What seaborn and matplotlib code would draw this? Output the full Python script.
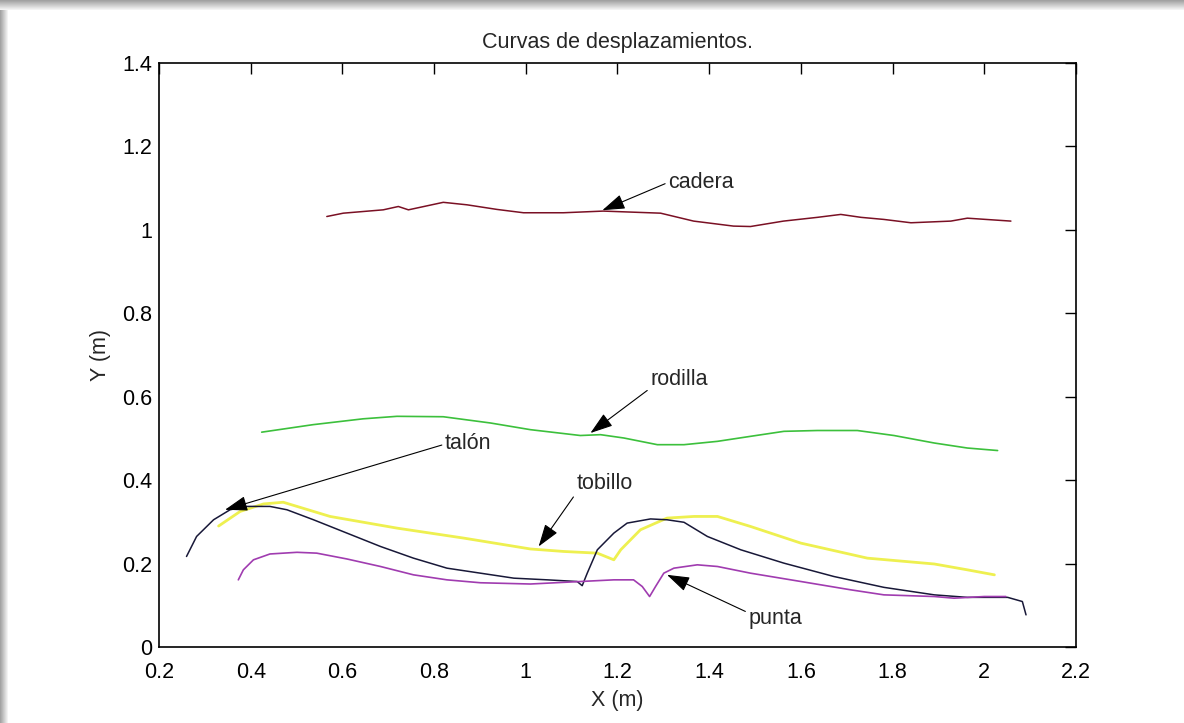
import numpy as np
import pandas as pd
import matplotlib
matplotlib.use("Agg")
import matplotlib.pyplot as plt
import seaborn as sns

# ── data (X, Y in metres) ──
cadera_x = [0.566, 0.602, 0.689, 0.722, 0.744, 0.820, 0.872, 0.937, 0.995, 1.082, 1.169,
            1.294, 1.366, 1.453, 1.490, 1.562, 1.636, 1.687, 1.731, 1.781, 1.840, 1.927, 1.963, 2.058]
cadera_y = [1.032, 1.040, 1.048, 1.056, 1.048, 1.066, 1.060, 1.049, 1.041, 1.041, 1.045,
            1.040, 1.021, 1.009, 1.008, 1.021, 1.030, 1.037, 1.030, 1.025, 1.017, 1.021, 1.028, 1.021]

rodilla_x = [0.424, 0.536, 0.645, 0.719, 0.820, 0.923, 1.010, 1.119, 1.163, 1.214, 1.287,
             1.345, 1.418, 1.490, 1.563, 1.636, 1.723, 1.803, 1.891, 1.963, 2.029]
rodilla_y = [0.515, 0.533, 0.547, 0.553, 0.552, 0.537, 0.521, 0.507, 0.509, 0.501, 0.485,
             0.485, 0.493, 0.505, 0.517, 0.519, 0.519, 0.507, 0.489, 0.477, 0.471]

tobillo_x = [0.330, 0.377, 0.428, 0.471, 0.573, 0.719, 0.865, 1.010, 1.083, 1.156, 1.192,
             1.207, 1.250, 1.308, 1.367, 1.418, 1.490, 1.600, 1.745, 1.891, 1.963, 2.022]
tobillo_y = [0.290, 0.325, 0.343, 0.347, 0.313, 0.285, 0.261, 0.235, 0.229, 0.225, 0.209,
             0.233, 0.281, 0.309, 0.313, 0.313, 0.289, 0.249, 0.213, 0.199, 0.185, 0.173]

talon_x = [0.260, 0.282, 0.319, 0.355, 0.392, 0.442, 0.479, 0.537, 0.610, 0.683, 0.755,
           0.828, 0.901, 0.974, 1.047, 1.112, 1.123, 1.134, 1.156, 1.192, 1.221, 1.272,
           1.308, 1.345, 1.396, 1.469, 1.563, 1.672, 1.781, 1.891, 1.963, 2.051, 2.083, 2.091]
talon_y = [0.217, 0.265, 0.305, 0.329, 0.337, 0.337, 0.329, 0.305, 0.273, 0.241, 0.213,
           0.189, 0.177, 0.165, 0.161, 0.157, 0.147, 0.177, 0.233, 0.273, 0.297, 0.307,
           0.305, 0.299, 0.265, 0.233, 0.201, 0.169, 0.143, 0.125, 0.119, 0.119, 0.109, 0.077]

punta_x = [0.373, 0.384, 0.406, 0.442, 0.501, 0.544, 0.610, 0.683, 0.755, 0.828, 0.901,
           1.010, 1.119, 1.192, 1.235, 1.254, 1.270, 1.283, 1.301, 1.323, 1.374, 1.418,
           1.490, 1.600, 1.709, 1.781, 1.891, 1.934, 2.000, 2.047]
punta_y = [0.161, 0.185, 0.209, 0.223, 0.227, 0.225, 0.211, 0.193, 0.173, 0.161, 0.154,
           0.151, 0.157, 0.161, 0.161, 0.145, 0.121, 0.145, 0.177, 0.189, 0.197, 0.193,
           0.177, 0.157, 0.137, 0.125, 0.121, 0.117, 0.121, 0.121]

# label, text position, arrow tip
labels     = ["cadera", "rodilla", "talón", "tobillo", "punta"]
label_xy   = [(1.311, 1.114), (1.272, 0.641), (0.824, 0.489), (1.111, 0.391), (1.486, 0.069)]
arrow_tips = [(1.167, 1.047), (1.141, 0.513), (0.344, 0.329), (1.028, 0.241), (1.308, 0.173)]

x_ticks = [0.2, 0.4, 0.6, 0.8, 1, 1.2, 1.4, 1.6, 1.8, 2, 2.2]
y_ticks = [0, 0.2, 0.4, 0.6, 0.8, 1, 1.2, 1.4]

# ── style ──
sns.set_style("white")
plt.rcParams['font.family'] = ['Liberation Sans', 'DejaVu Sans']

fig = plt.figure(figsize=(11.84, 7.23), dpi=100)
fig.patch.set_facecolor('white')

# grey drop-shadow frame along top and left edges
shadow = np.linspace(0.62, 0.97, 40)
top = fig.add_axes([0, 1 - 10 / 723, 1, 10 / 723])
top.imshow(np.tile(shadow[:, None], (1, 4)), cmap='gray', vmin=0, vmax=1, aspect='auto',
           extent=[0, 1, 0, 1], origin='upper')
top.axis('off')
left = fig.add_axes([0, 0, 8 / 1184, 1 - 10 / 723])
left.imshow(np.tile(shadow[None, :], (4, 1)), cmap='gray', vmin=0, vmax=1, aspect='auto',
            extent=[0, 1, 0, 1])
left.axis('off')

ax = fig.add_axes([159 / 1184, 76 / 723, 917 / 1184, 584 / 723])

curves = [
    (cadera_x, cadera_y, '#7a1024', 1.1),
    (rodilla_x, rodilla_y, '#3cc03c', 1.2),
    (tobillo_x, tobillo_y, '#eef050', 2.0),
    (talon_x, talon_y, '#181838', 1.1),
    (punta_x, punta_y, '#a03cb0', 1.2),
]
for xs, ys, col, lw in curves:
    df = pd.DataFrame({'x': xs, 'y': ys})
    sns.lineplot(data=df, x='x', y='y', ax=ax, sort=False, color=col, linewidth=lw,
                 estimator=None)

rel = [(0, 0.5), (0, 0.1), (0, 0.45), (0, 0.1), (0, 0.75)]
for lab, txy, tip, rp in zip(labels, label_xy, arrow_tips, rel):
    ax.annotate(lab, xy=tip, xytext=txy, ha='left', va='center', fontsize=15.5,
                arrowprops=dict(arrowstyle='-|>,head_length=0.9,head_width=0.3',
                                lw=0.8, color='black', relpos=rp,
                                shrinkA=0, shrinkB=0))

ax.set_xlim(0.2, 2.2)
ax.set_ylim(0, 1.4)
ax.set_xticks(x_ticks)
ax.set_yticks(y_ticks)
ax.set_xticklabels([f"{v:g}" for v in x_ticks])
ax.set_yticklabels([f"{v:g}" for v in y_ticks])
ax.tick_params(direction='in', length=8, width=1, top=True, right=True,
               labelsize=15.5, colors='black')
ax.tick_params(axis='x', pad=11)
ax.tick_params(axis='y', pad=5)
for sp in ax.spines.values():
    sp.set_visible(True)
    sp.set_color('black')
    sp.set_linewidth(1.2)

ax.set_xlabel('X (m)', fontsize=15.5, labelpad=5)
ax.set_ylabel('Y (m)', fontsize=15.5, labelpad=8)
ax.set_title('Curvas de desplazamientos.', fontsize=15.5, pad=11)

fig.savefig('out.png', dpi=100, facecolor=fig.get_facecolor())
